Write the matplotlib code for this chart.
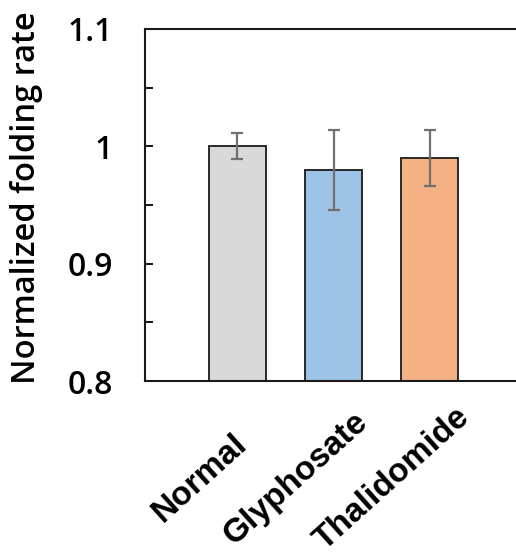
import matplotlib
matplotlib.use('Agg')
import matplotlib.pyplot as plt
import matplotlib.transforms as mtransforms

categories = ['Normal', 'Glyphosate', 'Thalidomide']
values = [1.000, 0.980, 0.990]
errors = [0.011, 0.034, 0.024]
colors = ['#d9d9d9', '#9dc3e6', '#f4b183']

W, H = 516, 557
fig = plt.figure(figsize=(W / 100, H / 100), dpi=100)
# plot area in pixels: left 145, right 522 (runs past the edge), top 29, bottom 381
ax = fig.add_axes([145 / W, (H - 381) / H, (522 - 145) / W, (381 - 29) / H])

x = list(range(len(categories)))
ax.bar(x, values, width=0.59, color=colors, edgecolor='#1a1a1a', linewidth=1.3,
       yerr=errors, error_kw=dict(ecolor='#707070', elinewidth=1.6, capsize=4.5, capthick=1.6),
       zorder=2)

ax.set_xlim(-0.96, 2.96)
ax.set_ylim(0.8, 1.1)
ax.set_yticks([0.8, 0.9, 1.0, 1.1])
ax.set_yticklabels(['0.8', '0.9', '1', '1.1'])
ax.set_yticks([0.85, 0.95, 1.05], minor=True)
ax.tick_params(axis='y', which='both', direction='in', length=6, width=1.3, pad=23,
               labelsize=23)
ax.tick_params(axis='x', length=0)

for s in ax.spines.values():
    s.set_linewidth(1.5)
    s.set_color('#1a1a1a')

for lab in ax.get_yticklabels():
    lab.set_family('Open Sans')
    lab.set_weight('semibold')

# rotated labels are centred below each bar, shifted left/down like Excel does
ax.set_xticks(x)
ax.set_xticklabels(categories, rotation=42, ha='center', va='baseline',
                   rotation_mode='anchor', fontsize=24,
                   family='Liberation Sans', weight='bold')
offset = mtransforms.ScaledTranslation(-32 / 100, -99 / 100, fig.dpi_scale_trans)
for lab in ax.get_xticklabels():
    lab.set_transform(lab.get_transform() + offset)

ax.set_ylabel('Normalized folding rate', fontsize=23.5, family='Open Sans',
              weight='semibold')
ax.yaxis.set_label_coords(-0.27, 0.52)

fig.savefig('out.png', dpi=100)
